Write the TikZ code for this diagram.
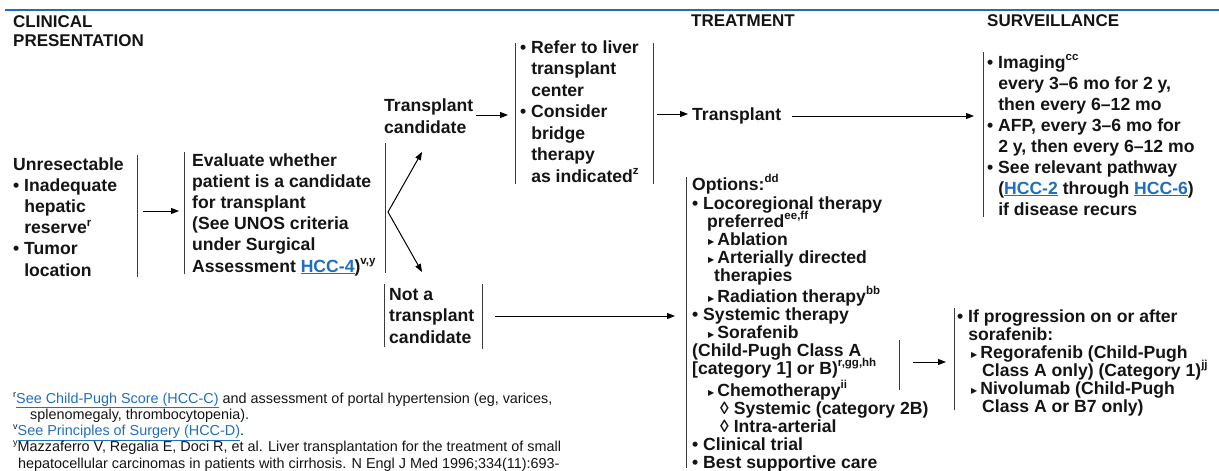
\documentclass[tikz,border=0pt]{standalone}
\usepackage{fontspec}
\setmainfont{Liberation Sans}
\newfontfamily\dejavu{DejaVu Sans}
\usetikzlibrary{arrows.meta}
\definecolor{linkblue}{HTML}{1F6FBF}
\definecolor{rulecol}{HTML}{1A6FB7}
\definecolor{barcol}{HTML}{3C3C3C}
\definecolor{txtcol}{HTML}{141414}
\newcommand\sups[1]{\smash{\raisebox{0.4em}{\fontsize{11.5}{11.5}\selectfont #1}}}
\newcommand\fsups[1]{\smash{\raisebox{0.42em}{\fontsize{9}{9}\selectfont #1}}}
\newcommand\lnk[1]{\textcolor{linkblue}{\underline{#1}}}
\newcommand\tri{\raisebox{1pt}{\dejavu\fontsize{8}{8}\selectfont ▶}\hspace{3pt}}
\newcommand\hp{\hphantom{•\ }}
\tikzset{
  txt/.style={anchor=base west, inner sep=0pt, align=left, text=txtcol,
    font=\bfseries\fontsize{17.6}{21.2}\selectfont},
  head/.style={anchor=base west, inner sep=0pt, align=left, text=txtcol,
    font=\bfseries\fontsize{17}{19.5}\selectfont},
  foot/.style={anchor=base west, inner sep=0pt, align=left, text=txtcol,
    font=\fontsize{14.4}{16.2}\selectfont},
  bar/.style={draw=barcol, line width=1pt},
  arr/.style={draw=black, line width=1pt, -{Triangle[length=8pt,width=6pt]}},
}
\begin{document}
\begin{tikzpicture}[x=1pt,y=-1pt]
\useasboundingbox (0,0) rectangle (1219,471);
% top rule
\coordinate (rl) at (5,10);
\coordinate (rr) at (1219,10);
\draw[rulecol, line width=1.2pt] (rl) -- (rr);
% headers (anchor = baseline of last line)
\node[head] (hclin) at (13,46.5) {CLINICAL\\PRESENTATION};
\node[head] (htreat) at (691,27) {TREATMENT};
\node[head] (hsurv) at (987,27) {SURVEILLANCE};
% clinical presentation
\node[txt] (pres) at (13,276) {Unresectable\\• Inadequate\\\hp hepatic\\\hp reserve\sups{r}\\• Tumor\\\hp location};
\coordinate (presT) at (137,155); \coordinate (presB) at (137,277);
\draw[bar] (presT) -- (presB);
\coordinate (a1s) at (143,211); \coordinate (a1e) at (179,211);
\draw[arr] (a1s) -- (a1e);
% evaluate
\coordinate (evLT) at (184,152); \coordinate (evLB) at (184,274);
\draw[bar] (evLT) -- (evLB);
\node[txt] (eval) at (192,272) {Evaluate whether\\patient is a candidate\\for transplant\\(See UNOS criteria\\under Surgical\\Assessment \lnk{HCC-4})\sups{v,y}};
\coordinate (evRT) at (385,143); \coordinate (evRB) at (385,273);
\draw[bar] (evRT) -- (evRB);
% branch
\coordinate (br) at (388,212);
\coordinate (brU) at (422,152);
\coordinate (brD) at (422,272);
\draw[arr] (br) -- (brU);
\draw[arr] (br) -- (brD);
% transplant candidate
\node[txt] (tc) at (384,133) {Transplant\\candidate};
\coordinate (a2s) at (476,115); \coordinate (a2e) at (508,115);
\draw[arr] (a2s) -- (a2e);
% refer
\coordinate (rfLT) at (515,43); \coordinate (rfLB) at (515,184);
\draw[bar] (rfLT) -- (rfLB);
\node[txt, font=\bfseries\fontsize{17.6}{21.5}\selectfont] (refer) at (520,182) {• Refer to liver\\\hp transplant\\\hp center\\• Consider\\\hp bridge\\\hp therapy\\\hp as indicated\sups{z}};
\coordinate (rfRT) at (653,43); \coordinate (rfRB) at (653,184);
\draw[bar] (rfRT) -- (rfRB);
\coordinate (a3s) at (657,114); \coordinate (a3e) at (688,114);
\draw[arr] (a3s) -- (a3e);
% transplant
\node[txt] (tx) at (692,120) {Transplant};
\coordinate (a4s) at (792,116); \coordinate (a4e) at (974,116);
\draw[arr] (a4s) -- (a4e);
% surveillance
\coordinate (svT) at (983,52); \coordinate (svB) at (983,217);
\draw[bar] (svT) -- (svB);
\node[txt, font=\bfseries\fontsize{17.6}{21}\selectfont] (surv) at (987,215) {• Imaging\sups{cc}\\\hp every 3–6 mo for 2 y,\\\hp then every 6–12 mo\\• AFP, every 3–6 mo for\\\hp 2 y, then every 6–12 mo\\• See relevant pathway\\\hp (\lnk{HCC-2} through \lnk{HCC-6})\\\hp if disease recurs};
% not a transplant candidate
\coordinate (ntLT) at (384,284); \coordinate (ntLB) at (384,347);
\draw[bar] (ntLT) -- (ntLB);
\node[txt, font=\bfseries\fontsize{17.6}{21.5}\selectfont] (ntc) at (389,343) {Not a\\transplant\\candidate};
\coordinate (ntRT) at (482,284); \coordinate (ntRB) at (482,349);
\draw[bar] (ntRT) -- (ntRB);
\coordinate (a5s) at (495,316); \coordinate (a5e) at (675,316);
\draw[arr] (a5s) -- (a5e);
% options
\coordinate (opT) at (686,177); \coordinate (opB) at (686,468);
\draw[bar] (opT) -- (opB);
\node[txt, font=\bfseries\fontsize{17.6}{18}\selectfont] (opts) at (692,468) {Options:\sups{dd}\\[1pt]
• Locoregional therapy\\
\hspace{15pt}preferred\sups{ee,ff}\\
\hspace{16pt}\tri Ablation\\
\hspace{16pt}\tri Arterially directed\\
\hspace{22pt}therapies\\[3pt]
\hspace{16pt}\tri Radiation therapy\sups{bb}\\
• Systemic therapy\\
\hspace{16pt}\tri Sorafenib\\
(Child-Pugh Class A\\
{[}category 1{]} or B)\sups{r,gg,hh}\\[4pt]
\hspace{16pt}\tri Chemotherapy\sups{ii}\\
\hspace{28pt}◊ Systemic (category 2B)\\
\hspace{28pt}◊ Intra-arterial\\
• Clinical trial\\
• Best supportive care};
\coordinate (sfT) at (899,340); \coordinate (sfB) at (899,390);
\draw[bar] (sfT) -- (sfB);
\coordinate (a6s) at (913,362); \coordinate (a6e) at (946,362);
\draw[arr] (a6s) -- (a6e);
% progression
\coordinate (pgT) at (954,308); \coordinate (pgB) at (954,410);
\draw[bar] (pgT) -- (pgB);
\node[txt, font=\bfseries\fontsize{17.6}{18}\selectfont] (prog) at (957,412) {• If progression on or after\\
\hp sorafenib:\\
\hspace{14pt}\tri Regorafenib (Child-Pugh\\
\hspace{25pt}Class A only) (Category 1)\sups{jj}\\
\hspace{14pt}\tri Nivolumab (Child-Pugh\\
\hspace{25pt}Class A or B7 only)};
% footnotes
\node[foot] (fn) at (13,468) {\fsups{r}\lnk{See Child-Pugh Score (HCC-C)} and assessment of portal hypertension (eg, varices,\\
\hspace{17pt}splenomegaly, thrombocytopenia).\\
\fsups{v}\lnk{See Principles of Surgery (HCC-D)}.\\
\fsups{y}Mazzaferro V, Regalia E, Doci R, et al. Liver transplantation for the treatment of small\\
\hspace{5pt}hepatocellular carcinomas in patients with cirrhosis. N Engl J Med 1996;334(11):693-};
\end{tikzpicture}
\end{document}
